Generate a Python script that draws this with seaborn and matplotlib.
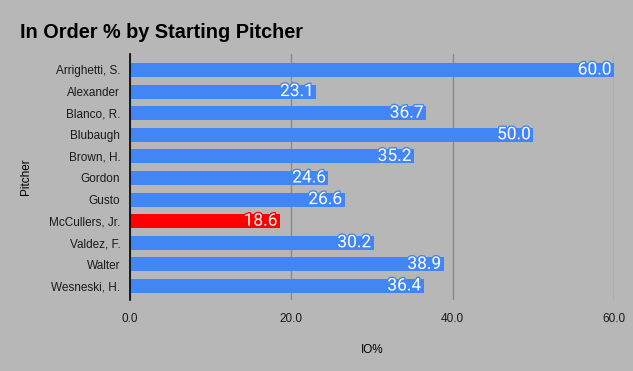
import pandas as pd
import matplotlib.pyplot as plt
import matplotlib.patheffects as pe
import seaborn as sns

pitchers = ['Arrighetti, S.', 'Alexander', 'Blanco, R.', 'Blubaugh', 'Brown, H.',
            'Gordon', 'Gusto', 'McCullers, Jr.', 'Valdez, F.', 'Walter', 'Wesneski, H.']
io_pct = [60.0, 23.1, 36.7, 50.0, 35.2, 24.6, 26.6, 18.6, 30.2, 38.9, 36.4]
highlight = 'McCullers, Jr.'

blue = '#4285f4'
red = '#ff0000'
bg = '#b7b7b7'

df = pd.DataFrame({'Pitcher': pitchers, 'IO%': io_pct})
df['grp'] = ['hl' if p == highlight else 'base' for p in pitchers]

sns.set_style('white')
plt.rcParams['font.family'] = ['Liberation Sans', 'DejaVu Sans']
plt.rcParams['text.color'] = 'black'

fig = plt.figure(figsize=(6.33, 3.71), dpi=100, facecolor=bg)
ax = fig.add_axes([130 / 633, 1 - 300 / 371, 484 / 633, 246 / 371])
ax.set_facecolor(bg)

sns.barplot(data=df, x='IO%', y='Pitcher', hue='grp', palette={'base': blue, 'hl': red},
            dodge=False, legend=False, width=0.65, ax=ax, saturation=1, linewidth=0)

ax.set_xlim(0, 60)
ax.set_ylim(10.65, -0.74)
ax.set_xticks([0, 20, 40, 60])
ax.set_xticklabels(['0.0', '20.0', '40.0', '60.0'])
ax.grid(axis='x', color='#8a8a8a', linewidth=1)
ax.set_axisbelow(True)
for s in ['top', 'right', 'bottom']:
    ax.spines[s].set_visible(False)
ax.spines['left'].set_color('black')
ax.spines['left'].set_linewidth(1.2)
ax.tick_params(axis='both', length=0, labelsize=8.5, colors='#1a1a1a', pad=7)
ax.tick_params(axis='x', pad=9)

ax.set_xlabel('IO%', fontsize=8.5, labelpad=14, color='black')
ax.set_ylabel('Pitcher', fontsize=8.5, labelpad=12, color='black')

for i, (p, v) in enumerate(zip(pitchers, io_pct)):
    c = red if p == highlight else blue
    ax.text(v - 0.3, i, f'{v:.1f}', ha='right', va='center', color='white', fontsize=12.5,
            family='Roboto', path_effects=[pe.withStroke(linewidth=2, foreground=c)])

fig.text(20 / 633, 1 - 32 / 371, 'In Order % by Starting Pitcher', fontsize=14.3,
         fontweight='bold', color='black', va='center', ha='left')

fig.savefig('out.png', dpi=100, facecolor=bg)
